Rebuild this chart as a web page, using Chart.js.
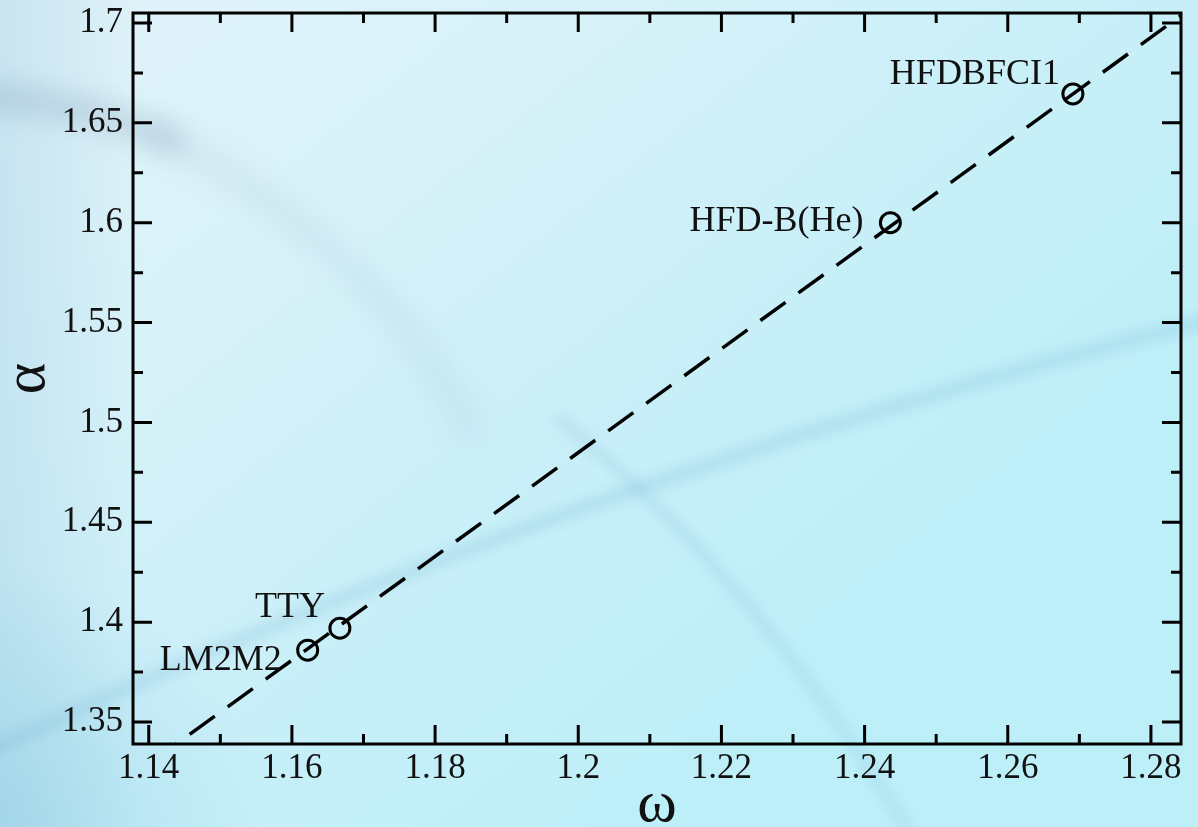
<!DOCTYPE html>
<html>
<head>
<meta charset="utf-8">
<script src="https://cdn.jsdelivr.net/npm/chart.js@4.4.1/dist/chart.umd.min.js"></script>
<style>
  html, body { margin: 0; padding: 0; width: 1198px; height: 827px; overflow: hidden; background: #cfeff7; }
  canvas { display: block; }
</style>
</head>
<body>
<canvas id="chart" width="1198" height="827"></canvas>
<script>
// Potential models and their (omega, alpha) values
const potentials = ['LM2M2', 'TTY', 'HFD-B(He)', 'HFDBFCI1'];
const omega = [1.1622, 1.1667, 1.2436, 1.2691];
const alpha = [1.386, 1.397, 1.600, 1.6645];

// Straight-line fit through the models (end points)
const fitOmega = [1.1404, 1.2870];
const fitAlpha = [1.3300, 1.7110];

// Axis ticks
const xTicks = [1.14, 1.16, 1.18, 1.20, 1.22, 1.24, 1.26, 1.28];
const xTickLabels = ['1.14', '1.16', '1.18', '1.2', '1.22', '1.24', '1.26', '1.28'];
const xMinorTicks = [1.15, 1.17, 1.19, 1.21, 1.23, 1.25, 1.27];
const yTicks = [1.35, 1.40, 1.45, 1.50, 1.55, 1.60, 1.65, 1.70];
const yTickLabels = ['1.35', '1.4', '1.45', '1.5', '1.55', '1.6', '1.65', '1.7'];
const yMinorTicks = [1.375, 1.425, 1.475, 1.525, 1.575, 1.625, 1.675];

// Label placement relative to each marker (pixels: right edge, baseline)
const labelDx = [-26, -15, -27, -13];
const labelDy = [20, -11, 8, -10];

const SERIF = '"Liberation Serif", "Times New Roman", Times, serif';

// Soft cyan backdrop with a few faint blurred sweeping bands
const backdrop = {
  id: 'backdrop',
  beforeDraw(chart) {
    const ctx = chart.ctx;
    const w = chart.width, h = chart.height;
    ctx.save();
    const g = ctx.createLinearGradient(0, 0, w * 0.55, h);
    g.addColorStop(0, '#e3f2f9');
    g.addColorStop(0.35, '#d8f2f9');
    g.addColorStop(0.7, '#c7eff8');
    g.addColorStop(1, '#bdeff8');
    ctx.fillStyle = g;
    ctx.fillRect(0, 0, w, h);

    // slightly deeper blue along the left edge, strongest low down
    const gl = ctx.createLinearGradient(0, 0, 140, 0);
    gl.addColorStop(0, 'rgba(140,195,220,0.30)');
    gl.addColorStop(1, 'rgba(140,195,220,0)');
    ctx.fillStyle = gl;
    ctx.fillRect(0, 0, 140, h);
    const gb = ctx.createRadialGradient(0, h, 0, 0, h, 260);
    gb.addColorStop(0, 'rgba(120,190,220,0.35)');
    gb.addColorStop(1, 'rgba(120,190,220,0)');
    ctx.fillStyle = gb;
    ctx.fillRect(0, h - 260, 260, 260);

    ctx.lineCap = 'round';
    ctx.filter = 'blur(12px)';
    ctx.strokeStyle = 'rgba(130,160,185,0.30)';
    ctx.lineWidth = 28;
    ctx.beginPath();
    ctx.moveTo(-40, 95);
    ctx.quadraticCurveTo(80, 100, 170, 140);
    ctx.stroke();
    ctx.strokeStyle = 'rgba(130,165,190,0.13)';
    ctx.lineWidth = 24;
    ctx.beginPath();
    ctx.moveTo(160, 135);
    ctx.quadraticCurveTo(380, 250, 470, 430);
    ctx.stroke();

    ctx.filter = 'blur(6px)';
    ctx.strokeStyle = 'rgba(110,175,210,0.22)';
    ctx.lineWidth = 14;
    ctx.beginPath();
    ctx.moveTo(-30, 760);
    ctx.quadraticCurveTo(560, 480, 1230, 315);
    ctx.stroke();

    ctx.strokeStyle = 'rgba(110,170,210,0.16)';
    ctx.lineWidth = 12;
    ctx.beginPath();
    ctx.moveTo(560, 420);
    ctx.quadraticCurveTo(760, 580, 920, 850);
    ctx.stroke();
    ctx.filter = 'none';
    ctx.restore();
  }
};

// Frame with inward ticks on all four sides, plus the model names
const frameAndLabels = {
  id: 'frameAndLabels',
  afterDatasetsDraw(chart) {
    const ctx = chart.ctx;
    const a = chart.chartArea;
    const xs = chart.scales.x, ys = chart.scales.y;
    const major = 19, minor = 10;
    ctx.save();
    ctx.strokeStyle = '#000';
    ctx.lineWidth = 3;
    ctx.lineCap = 'butt';
    ctx.beginPath();
    const tickX = (v, len) => {
      const p = xs.getPixelForValue(v);
      ctx.moveTo(p, a.bottom); ctx.lineTo(p, a.bottom - len);
      ctx.moveTo(p, a.top); ctx.lineTo(p, a.top + len);
    };
    const tickY = (v, len) => {
      const p = ys.getPixelForValue(v);
      ctx.moveTo(a.left, p); ctx.lineTo(a.left + len, p);
      ctx.moveTo(a.right, p); ctx.lineTo(a.right - len, p);
    };
    xTicks.forEach(v => tickX(v, major));
    xMinorTicks.forEach(v => tickX(v, minor));
    yTicks.forEach(v => tickY(v, major));
    yMinorTicks.forEach(v => tickY(v, minor));
    ctx.stroke();
    ctx.strokeRect(a.left, a.top, a.right - a.left, a.bottom - a.top);

    ctx.fillStyle = '#111';
    ctx.font = '36px ' + SERIF;
    ctx.textAlign = 'right';
    ctx.textBaseline = 'alphabetic';
    potentials.forEach((name, i) => {
      const px = xs.getPixelForValue(omega[i]);
      const py = ys.getPixelForValue(alpha[i]);
      ctx.fillText(name, px + labelDx[i], py + labelDy[i]);
    });
    ctx.restore();
  }
};

new Chart(document.getElementById('chart'), {
  type: 'scatter',
  data: {
    datasets: [
      {
        label: 'fit',
        data: fitOmega.map((x, i) => ({ x, y: fitAlpha[i] })),
        showLine: true,
        borderColor: '#000',
        borderWidth: 3.5,
        borderDash: [31, 16],
        borderCapStyle: 'butt',
        pointRadius: 0,
        fill: false,
        clip: 0
      },
      {
        label: 'models',
        data: omega.map((x, i) => ({ x, y: alpha[i] })),
        showLine: false,
        pointStyle: 'circle',
        pointRadius: 10,
        pointBorderWidth: 3,
        pointBorderColor: '#000',
        pointBackgroundColor: 'rgba(0,0,0,0)',
        clip: false
      }
    ]
  },
  options: {
    responsive: false,
    devicePixelRatio: 1,
    animation: false,
    layout: { padding: { top: 12, right: 17, left: 0, bottom: 0 } },
    plugins: { legend: { display: false }, tooltip: { enabled: false } },
    scales: {
      x: {
        type: 'linear',
        position: 'bottom',
        min: 1.1378,
        max: 1.2842,
        afterBuildTicks: s => { s.ticks = xTicks.map(v => ({ value: v })); },
        afterFit: s => { s.height = 83; s.paddingLeft = 0; s.paddingRight = 0; },
        grid: { display: false, drawTicks: false },
        border: { display: false },
        ticks: {
          callback: (v, i) => xTickLabels[i],
          color: '#111',
          font: { family: SERIF, size: 35, lineHeight: 1 },
          padding: 7,
          maxRotation: 0,
          autoSkip: false
        },
        title: {
          display: true,
          text: 'ω',
          color: '#111',
          font: { family: SERIF, size: 60, lineHeight: 1 },
          padding: { top: 0, bottom: -8 }
        }
      },
      y: {
        type: 'linear',
        position: 'left',
        min: 1.339,
        max: 1.705,
        afterBuildTicks: s => { s.ticks = yTicks.map(v => ({ value: v })); },
        afterFit: s => { s.width = 133; s.paddingTop = 0; s.paddingBottom = 0; },
        grid: { display: false, drawTicks: false },
        border: { display: false },
        ticks: {
          callback: (v, i) => yTickLabels[i],
          color: '#111',
          font: { family: SERIF, size: 35, lineHeight: 1 },
          padding: 10,
          autoSkip: false
        },
        title: {
          display: true,
          text: 'α',
          color: '#111',
          font: { family: SERIF, size: 60, lineHeight: 1 },
          padding: { top: -2, bottom: 0 }
        }
      }
    }
  },
  plugins: [backdrop, frameAndLabels]
});
</script>
</body>
</html>
